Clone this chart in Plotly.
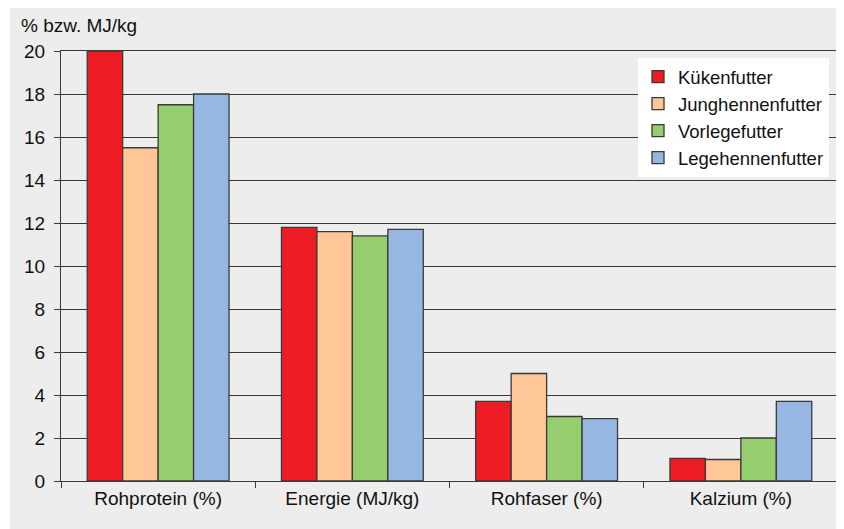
import plotly.graph_objects as go

categories = ["Rohprotein (%)", "Energie (MJ/kg)", "Rohfaser (%)", "Kalzium (%)"]
series_names = ["Kükenfutter", "Junghennenfutter", "Vorlegefutter", "Legehennenfutter"]
kueken = [20.0, 11.8, 3.7, 1.05]
junghennen = [15.5, 11.6, 5.0, 1.0]
vorlege = [17.5, 11.4, 3.0, 2.0]
legehennen = [18.0, 11.7, 2.9, 3.7]
y_ticks = [0, 2, 4, 6, 8, 10, 12, 14, 16, 18, 20]

colors = ["#ED1C24", "#FFC697", "#96CD6E", "#95B7E1"]
FONT = "Liberation Sans, Arial, sans-serif"
GRAY = "#EDEDED"
LINE = "#3a3a3a"
TXT = "#111111"

fig = go.Figure()
for name, vals, col in zip(series_names, [kueken, junghennen, vorlege, legehennen], colors):
    fig.add_trace(go.Bar(
        x=categories, y=vals, name=name,
        marker=dict(color=col, line=dict(color=LINE, width=1.3)),
    ))

# page offset of 8px (body margin) is compensated
OFF = 8
W, H = 844 - OFF, 529 - OFF
L, R, T, B = 61 - OFF, 6, 51 - OFF, 48
pw, ph = W - L - R, H - T - B


def px_x(page_x):
    return (page_x - OFF - L) / pw


def px_y(page_y):
    return (H - B - (page_y - OFF)) / ph


fig.update_layout(
    width=W, height=H,
    margin=dict(l=L, r=R, t=T, b=B, pad=0),
    paper_bgcolor="white",
    plot_bgcolor=GRAY,
    barmode="group",
    bargap=0.27,
    bargroupgap=0,
    font=dict(family=FONT, size=19, color=TXT),
    showlegend=True,
    legend=dict(
        x=px_x(829), y=px_y(58), xanchor="right", yanchor="top",
        bgcolor="white", borderwidth=0,
        font=dict(family=FONT, size=18.5, color=TXT),
        tracegroupgap=0, itemwidth=30,
    ),
    xaxis=dict(
        type="category",
        tickson="boundaries",
        ticks="outside", ticklen=6, tickcolor=LINE, tickwidth=1.3,
        showline=True, linecolor=LINE, linewidth=1.3, mirror=True,
        showgrid=False,
        tickfont=dict(family=FONT, size=19, color=TXT),
    ),
    yaxis=dict(
        range=[0, 20],
        tickvals=y_ticks,
        ticks="outside", ticklen=6, tickcolor=LINE, tickwidth=1.3,
        showline=True, linecolor=LINE, linewidth=1.3, mirror=True,
        showgrid=True, gridcolor=LINE, gridwidth=1.3,
        zeroline=False,
        ticklabelstandoff=5,
        tickfont=dict(family=FONT, size=19, color=TXT),
    ),
    shapes=[dict(
        type="rect", xref="paper", yref="paper", layer="below",
        x0=px_x(10), x1=px_x(850),
        y0=px_y(540), y1=px_y(7),
        fillcolor=GRAY, line=dict(width=0),
    )],
    annotations=[dict(
        text="% bzw. MJ/kg", xref="paper", yref="paper",
        x=px_x(19), y=px_y(25), xanchor="left", yanchor="middle",
        showarrow=False, font=dict(family=FONT, size=19, color=TXT),
    )],
)

fig.write_html("out.html")
